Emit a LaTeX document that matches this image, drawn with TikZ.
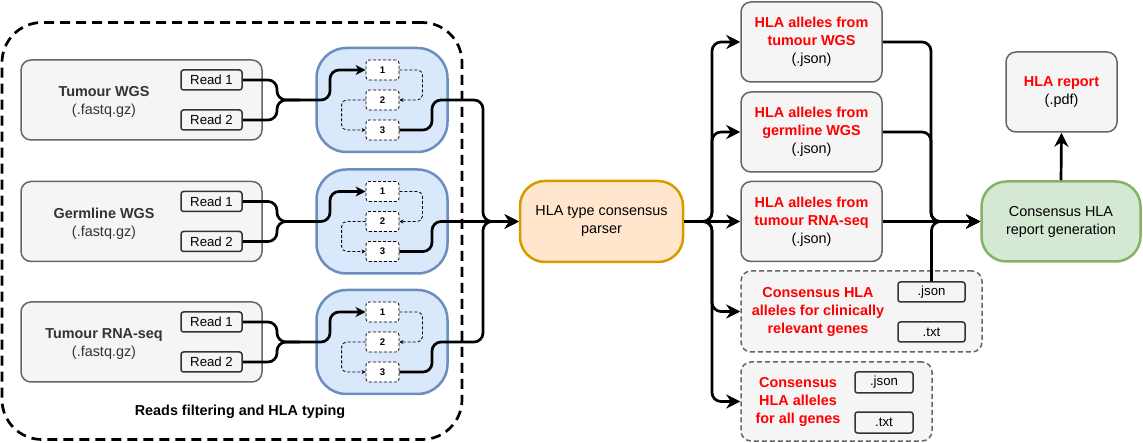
\documentclass[tikz,border=0pt]{standalone}
\usepackage{fontspec}
\setmainfont{Liberation Sans}
\usetikzlibrary{arrows.meta}
\definecolor{gfill}{HTML}{F5F5F5}
\definecolor{gdraw}{HTML}{666666}
\definecolor{bfill}{HTML}{DAE8FC}
\definecolor{bdraw}{HTML}{6C8EBF}
\definecolor{ofill}{HTML}{FFE6CC}
\definecolor{odraw}{HTML}{D79B00}
\definecolor{nfill}{HTML}{D5E8D4}
\definecolor{ndraw}{HTML}{82B366}
\definecolor{hlared}{HTML}{FF0000}
\definecolor{txtgray}{HTML}{333333}
\newcommand\hlr[1]{\textbf{\textcolor{hlared}{#1}}}
\begin{document}
\begin{tikzpicture}[x=1pt,y=-1pt,
  every node/.style={font=\fontsize{14.4}{18}\selectfont, inner sep=0pt, align=center},
  graybox/.style={draw=gdraw, fill=gfill, line width=1.5pt, rounded corners=10pt},
  dgraybox/.style={graybox, dash pattern=on 5pt off 3pt},
  readbox/.style={draw=txtgray, fill=gfill, line width=1.5pt, rounded corners=2.5pt, minimum width=61pt, minimum height=20pt, font=\fontsize{13.2}{15}\selectfont},
  bluebox/.style={draw=bdraw, fill=bfill, line width=2.5pt, rounded corners=30pt, minimum width=131pt, minimum height=104pt},
  stepbox/.style={draw=black, fill=white, dash pattern=on 3pt off 2pt, line width=0.8pt, rounded corners=3pt, minimum width=33pt, minimum height=20pt, font=\fontsize{9.6}{11}\selectfont\bfseries},
  flow/.style={line width=2.7pt, rounded corners=9pt, -{Stealth[length=14pt,width=14pt,inset=4.5pt]}},
  smallflow/.style={line width=2.7pt, rounded corners=9pt, -{Stealth[length=10pt,width=10pt,inset=3pt]}},
  flowline/.style={line width=2.7pt, rounded corners=9pt},
  dflow/.style={line width=0.8pt, dash pattern=on 3pt off 2pt, rounded corners=5pt, -{Stealth[length=4pt,width=4pt]}},
]
\useasboundingbox (0,0) rectangle (1143,443);

% group container
\node[draw, line width=2.7pt, dash pattern=on 10pt off 6pt, rounded corners=40pt, minimum width=460pt, minimum height=417pt] (grp) at (232,231) {};
\node[font=\fontsize{14.4}{18}\selectfont\bfseries] (grplab) at (240,412) {Reads filtering and HLA typing};

% parser
\node[draw=odraw, fill=ofill, line width=2.5pt, rounded corners=25pt, minimum width=163pt, minimum height=81pt] (parser) at (601.5,221.5) {HLA type consensus\\parser};

% three input rows
\foreach \n/\y/\lab in {t/100/Tumour WGS, g/221.5/Germline WGS, r/342/Tumour RNA-seq} {
  \node[graybox, minimum width=241pt, minimum height=80pt] (\n-src) at (141.5,\y) {};
  \node[text=txtgray] (\n-lab) at (104,\y+2) {\textbf{\lab}\\(.fastq.gz)};
  \node[readbox] (\n-r1) at (211.5,\y-20) {Read 1};
  \node[readbox] (\n-r2) at (211.5,\y+20) {Read 2};
  \node[bluebox] (\n-blue) at (382,\y) {};
  \node[stepbox] (\n-s1) at (382.5,\y-30) {1};
  \node[stepbox] (\n-s2) at (382.5,\y) {2};
  \node[stepbox] (\n-s3) at (382.5,\y+30) {3};
  \draw[dflow] (\n-s1.east) -- ++(23,0) |- (\n-s2.east);
  \draw[dflow] (\n-s2.west) -- ++(-24,0) |- (\n-s3.west);
  \draw[flowline] (\n-r2.east) -| (277,\y) -- (300,\y);
  \draw[smallflow] (\n-r1.east) -| (277,\y) -- (330,\y) |- (\n-s1.west);
}
\draw[flow] (t-s3.east) -| (432,100) -- (483,100) -- (483,221.5) -- (parser.west);
\draw[flow] (g-s3.east) -| (432,221.5) -- (parser.west);
\draw[flow] (r-s3.east) -| (432,342) -- (483,342) -- (483,221.5) -- (parser.west);

% outputs
\node[graybox, minimum width=141pt, minimum height=80pt] (a1) at (811.5,42) {\hlr{HLA alleles from}\\\hlr{tumour WGS}\\(.json)};
\node[graybox, minimum width=141pt, minimum height=80pt] (a2) at (811.5,132) {\hlr{HLA alleles from}\\\hlr{germline WGS}\\(.json)};
\node[graybox, minimum width=141pt, minimum height=80pt] (a3) at (811.5,221.5) {\hlr{HLA alleles from}\\\hlr{tumour RNA-seq}\\(.json)};

\node[dgraybox, minimum width=241pt, minimum height=81pt] (c1) at (861.5,311.5) {};
\node (c1t) at (818,312) {\hlr{Consensus HLA}\\\hlr{alleles for clinically}\\\hlr{relevant genes}};
\node[readbox, minimum width=67pt] (c1j) at (931.5,292) {.json};
\node[readbox, minimum width=67pt] (c1x) at (931.5,332) {.txt};

\node[dgraybox, minimum width=191pt, minimum height=79pt] (c2) at (836.5,401.5) {};
\node (c2t) at (798,402) {\hlr{Consensus}\\\hlr{HLA alleles}\\\hlr{for all genes}};
\node[readbox, minimum width=58pt, minimum height=21pt] (c2j) at (884,382.5) {.json};
\node[readbox, minimum width=58pt, minimum height=21pt] (c2x) at (884,422.5) {.txt};

\node[draw=ndraw, fill=nfill, line width=2.5pt, rounded corners=25pt, minimum width=159pt, minimum height=80pt] (gen) at (1061,221.5) {Consensus HLA\\report generation};
\node[graybox, minimum width=111pt, minimum height=80pt] (rep) at (1061.5,92) {\hlr{HLA report}\\(.pdf)};

% parser to outputs
\draw[flow] (parser.east) -- (712,221.5) |- (a1.west);
\draw[flow] (parser.east) -- (712,221.5) |- (a2.west);
\draw[flow] (parser.east) -- (a3.west);
\draw[flow] (parser.east) -- (712,221.5) |- (c1.west);
\draw[flow] (parser.east) -- (712,221.5) |- (c2.west);

% outputs to report generation
\draw[flow] (a1.east) -| (931,221.5) -- (gen.west);
\draw[flow] (a2.east) -| (931,221.5) -- (gen.west);
\draw[flow] (a3.east) -- (gen.west);
\draw[flow] (c1j.north) |- (gen.west);
\draw[flow] (gen.north) -- (rep.south);
\end{tikzpicture}
\end{document}
